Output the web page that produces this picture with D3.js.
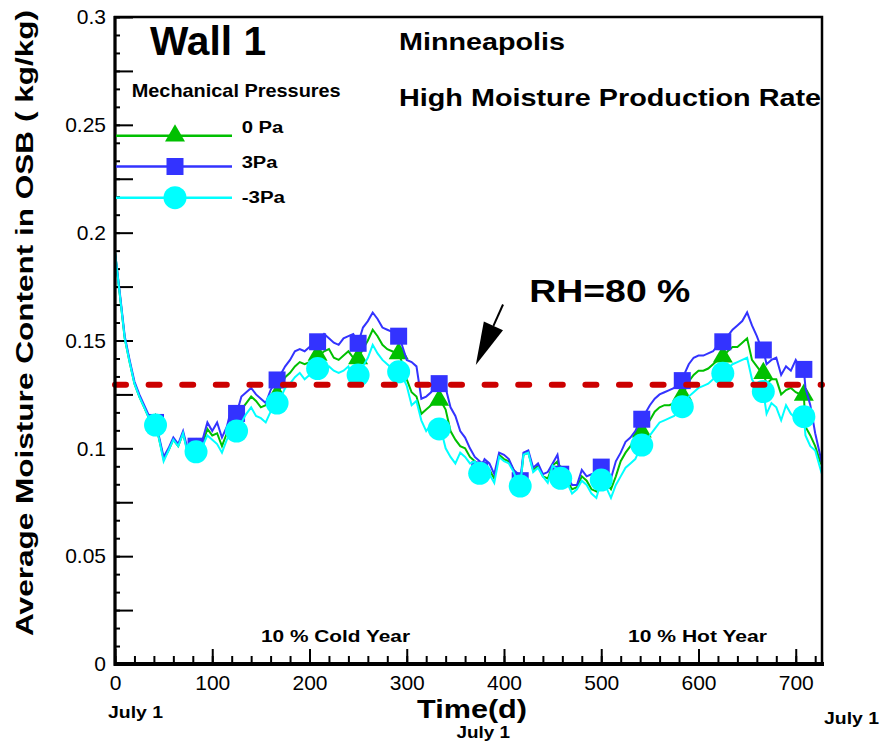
<!DOCTYPE html>
<html>
<head>
<meta charset="utf-8">
<script src="https://cdn.jsdelivr.net/npm/d3@7"></script>
<style>
  body { margin: 0; background: #fff; }
  svg { display: block; }
  text { font-family: "Liberation Sans", Arial, Helvetica, sans-serif; }
</style>
</head>
<body>
<svg id="chart" width="881" height="741"></svg>
<script>
// Sampling days (every 5 days over two years, plus the final day)
const days = d3.range(0, 726, 5).concat([727]);

// Average moisture content of the OSB sheathing (kg/kg)
const moisture0Pa = [
  0.191,0.171,0.151,0.140,0.130,0.124,0.119,0.114,0.111,0.105,
  0.095,0.099,0.104,0.101,0.107,0.098,0.100,0.099,0.102,0.109,
  0.106,0.107,0.101,0.107,0.113,0.112,0.118,0.121,0.124,0.122,
  0.119,0.120,0.123,0.125,0.128,0.133,0.135,0.138,0.140,0.139,
  0.140,0.142,0.143,0.145,0.146,0.142,0.141,0.143,0.145,0.142,
  0.142,0.146,0.150,0.155,0.152,0.148,0.146,0.145,0.144,0.140,
  0.132,0.126,0.124,0.116,0.118,0.120,0.122,0.122,0.118,0.108,
  0.104,0.101,0.100,0.096,0.094,0.091,0.091,0.090,0.086,0.097,
  0.095,0.094,0.090,0.085,0.097,0.098,0.090,0.092,0.087,0.086,
  0.092,0.094,0.088,0.085,0.081,0.082,0.087,0.085,0.081,0.080,
  0.087,0.084,0.081,0.087,0.094,0.098,0.101,0.105,0.107,0.110,
  0.113,0.117,0.119,0.120,0.120,0.121,0.123,0.126,0.131,0.134,
  0.136,0.136,0.137,0.139,0.141,0.142,0.145,0.147,0.147,0.149,
  0.151,0.141,0.138,0.135,0.130,0.132,0.132,0.125,0.127,0.128,
  0.126,0.125,0.110,0.106,0.101,0.094,0.092
];
const moisture3Pa = [
  0.191,0.172,0.152,0.141,0.131,0.125,0.120,0.115,0.112,0.106,
  0.096,0.100,0.105,0.102,0.108,0.099,0.101,0.101,0.104,0.112,
  0.108,0.112,0.105,0.110,0.119,0.116,0.124,0.126,0.128,0.125,
  0.123,0.121,0.127,0.131,0.134,0.138,0.141,0.145,0.146,0.145,
  0.147,0.149,0.150,0.153,0.151,0.149,0.148,0.151,0.152,0.153,
  0.149,0.156,0.159,0.163,0.160,0.156,0.155,0.154,0.152,0.148,
  0.141,0.140,0.138,0.123,0.124,0.126,0.129,0.132,0.128,0.119,
  0.115,0.108,0.105,0.100,0.096,0.094,0.095,0.093,0.088,0.098,
  0.097,0.095,0.090,0.088,0.098,0.099,0.091,0.093,0.088,0.089,
  0.093,0.097,0.089,0.087,0.083,0.083,0.090,0.087,0.088,0.086,
  0.091,0.089,0.086,0.094,0.098,0.103,0.105,0.108,0.113,0.116,
  0.120,0.123,0.125,0.126,0.127,0.128,0.131,0.134,0.139,0.142,
  0.143,0.143,0.144,0.145,0.148,0.149,0.152,0.155,0.157,0.159,
  0.163,0.157,0.152,0.146,0.139,0.141,0.142,0.134,0.138,0.136,
  0.141,0.137,0.128,0.120,0.107,0.097,0.093
];
const moistureNeg3Pa = [
  0.191,0.171,0.151,0.140,0.130,0.124,0.119,0.114,0.111,0.105,
  0.094,0.099,0.104,0.101,0.107,0.097,0.099,0.098,0.101,0.106,
  0.104,0.102,0.098,0.104,0.108,0.108,0.112,0.116,0.119,0.115,
  0.114,0.112,0.117,0.120,0.123,0.128,0.130,0.133,0.135,0.132,
  0.134,0.136,0.137,0.136,0.138,0.136,0.135,0.136,0.138,0.132,
  0.134,0.138,0.142,0.148,0.144,0.141,0.139,0.137,0.136,0.134,
  0.129,0.120,0.122,0.113,0.108,0.111,0.110,0.109,0.100,0.096,
  0.093,0.098,0.096,0.093,0.094,0.089,0.089,0.088,0.084,0.096,
  0.094,0.093,0.089,0.083,0.097,0.098,0.089,0.091,0.087,0.084,
  0.092,0.090,0.086,0.084,0.079,0.081,0.085,0.083,0.079,0.077,
  0.085,0.082,0.077,0.083,0.087,0.091,0.093,0.095,0.100,0.103,
  0.106,0.109,0.112,0.113,0.114,0.115,0.118,0.120,0.124,0.126,
  0.128,0.129,0.130,0.132,0.134,0.135,0.137,0.139,0.140,0.141,
  0.142,0.132,0.128,0.126,0.116,0.121,0.119,0.113,0.120,0.116,
  0.114,0.114,0.106,0.101,0.099,0.091,0.088
];

// Symbols are plotted every 1000 hours
const markerDays = d3.range(1, 18).map(k => k * 1000 / 24);
const marker0Pa = [0.111,0.0995,0.112,0.125,0.1433,0.1417,0.144,0.1224,0.089,0.083,0.087,0.087,0.1077,0.1247,0.1425,0.1348,0.1247];
const marker3Pa = [0.112,0.101,0.1162,0.1317,0.1494,0.1487,0.152,0.130,0.090,0.085,0.088,0.0913,0.1135,0.1314,0.1494,0.1456,0.1366];
const markerNeg3Pa = [0.1108,0.0984,0.108,0.121,0.137,0.134,0.1355,0.109,0.0884,0.0825,0.0861,0.0853,0.1015,0.1193,0.1348,0.1263,0.1147];

// Moisture content corresponding to RH = 80 %
const rhLimit = 0.1295;

// Tick values and labels
const xTicks = [0, 100, 200, 300, 400, 500, 600, 700];
const yTicks = [0, 0.05, 0.1, 0.15, 0.2, 0.25, 0.3];
const yTickLabels = ["0", "0.05", "0.1", "0.15", "0.2", "0.25", "0.3"];

const seriesNames = ["0 Pa", "3Pa", "-3Pa"];
const seriesColors = ["#00c000", "#3333ff", "#00ffff"];

const svg = d3.select("#chart");
svg.append("rect").attr("width", 881).attr("height", 741).attr("fill", "#fff");

const x = d3.scaleLinear().domain([0, 727]).range([115, 822]);
const y = d3.scaleLinear().domain([0, 0.3]).range([664, 17]);

// ---- axes -------------------------------------------------------------
const axisFont = 21;
function styleAxis(g) {
  g.select(".domain").remove();
  g.selectAll(".tick line").attr("stroke", "#000").attr("stroke-width", 2);
  g.selectAll("text").attr("fill", "#000").style("font-size", axisFont + "px");
}

svg.append("g").attr("transform", "translate(0,664)")
  .call(d3.axisBottom(x).tickValues(d3.range(0, 727, 20)).tickSize(-8).tickFormat(""))
  .call(styleAxis);
svg.append("g").attr("transform", "translate(0,664)")
  .call(d3.axisBottom(x).tickValues(xTicks).tickSize(-15).tickPadding(11).tickFormat(d3.format("d")))
  .call(styleAxis);

svg.append("g").attr("transform", "translate(115,0)")
  .call(d3.axisLeft(y).tickValues(d3.range(0, 0.3001, 0.025 / 3)).tickSize(-5).tickFormat(""))
  .call(styleAxis);
svg.append("g").attr("transform", "translate(115,0)")
  .call(d3.axisLeft(y).tickValues(d3.range(0, 0.3001, 0.025)).tickSize(-18).tickPadding(9)
    .tickFormat(v => {
      const i = yTicks.findIndex(t => Math.abs(t - v) < 1e-6);
      return i >= 0 ? yTickLabels[i] : "";
    }))
  .call(styleAxis);

// ---- data lines and symbols --------------------------------------------
const lineGen = d3.line().x(d => x(d[0])).y(d => y(d[1]));
const symbols = [
  d3.symbol(d3.symbolTriangle, 173),
  d3.symbol(d3.symbolSquare, 289),
  d3.symbol(d3.symbolCircle, 415)
];
const lineValues = [moisture0Pa, moisture3Pa, moistureNeg3Pa];
const markerValues = [marker0Pa, marker3Pa, markerNeg3Pa];

lineValues.forEach((vals, s) => {
  const pts = days.map((d, i) => [d, vals[i]])
    .concat(markerDays.map((d, i) => [d, markerValues[s][i]]))
    .sort((a, b) => a[0] - b[0]);
  svg.append("path").datum(pts)
    .attr("d", lineGen)
    .attr("fill", "none")
    .attr("stroke", seriesColors[s])
    .attr("stroke-width", 2)
    .attr("stroke-linejoin", "miter");
  svg.append("g").selectAll("path")
    .data(markerDays.map((d, i) => [d, markerValues[s][i]]))
    .join("path")
    .attr("d", symbols[s])
    .attr("transform", d => `translate(${x(d[0])},${y(d[1])})`)
    .attr("fill", seriesColors[s]);
});

// RH = 80 % threshold
svg.append("line")
  .attr("x1", x(0)).attr("x2", x(727))
  .attr("y1", y(rhLimit)).attr("y2", y(rhLimit))
  .attr("stroke", "#cc0000").attr("stroke-width", 6)
  .attr("stroke-dasharray", "11 22.6").attr("stroke-linecap", "round");

// ---- frame -------------------------------------------------------------
svg.append("rect").attr("x", 115).attr("y", 17).attr("width", 707).attr("height", 647)
  .attr("fill", "none").attr("stroke", "#000").attr("stroke-width", 2.5);
svg.append("line").attr("x1", 115).attr("x2", 115).attr("y1", 16).attr("y2", 666)
  .attr("stroke", "#000").attr("stroke-width", 3);
svg.append("line").attr("x1", 114).attr("x2", 824).attr("y1", 664).attr("y2", 664)
  .attr("stroke", "#000").attr("stroke-width", 4);

// ---- arrow to the threshold ------------------------------------------
const arrowTail = [399, 0.1667];
const arrowTip = [371, 0.1386];
{
  const tx = x(arrowTail[0]), ty = y(arrowTail[1]);
  const hx = x(arrowTip[0]), hy = y(arrowTip[1]);
  const len = Math.hypot(hx - tx, hy - ty);
  const ux = (hx - tx) / len, uy = (hy - ty) / len;
  const headLen = 43, headHalf = 10.5;
  const bx = hx - ux * headLen, by = hy - uy * headLen;
  svg.append("line").attr("x1", tx).attr("y1", ty).attr("x2", bx).attr("y2", by)
    .attr("stroke", "#000").attr("stroke-width", 2);
  svg.append("polygon")
    .attr("points", [[hx, hy], [bx - uy * headHalf, by + ux * headHalf], [bx + uy * headHalf, by - ux * headHalf]].map(p => p.join(",")).join(" "))
    .attr("fill", "#000");
}

// ---- legend ------------------------------------------------------------
const legendY = [135.7, 166.5, 197.7];
const legendText = [
  { x: 241.7, y: 133.3, w: 41.7 },
  { x: 241.7, y: 167.7, w: 35.7 },
  { x: 241.7, y: 203.3, w: 43.3 }
];
seriesNames.forEach((name, s) => {
  svg.append("line").attr("x1", 116).attr("x2", 232)
    .attr("y1", legendY[s]).attr("y2", legendY[s])
    .attr("stroke", seriesColors[s]).attr("stroke-width", 2.5);
  svg.append("path").attr("d", symbols[s])
    .attr("transform", `translate(175,${legendY[s]})`).attr("fill", seriesColors[s]);
  svg.append("text").attr("x", legendText[s].x).attr("y", legendText[s].y)
    .attr("font-size", 16).attr("font-weight", "bold")
    .attr("textLength", legendText[s].w).attr("lengthAdjust", "spacingAndGlyphs")
    .text(name);
});

// ---- labels ------------------------------------------------------------
function label(t, px, py, size, w, anchor) {
  return svg.append("text").attr("x", px).attr("y", py)
    .attr("font-size", size).attr("font-weight", "bold")
    .attr("text-anchor", anchor || "start")
    .attr("textLength", w).attr("lengthAdjust", "spacingAndGlyphs")
    .text(t);
}
label("Wall 1", 150, 55, 40, 116);
label("Mechanical Pressures", 131.7, 97.3, 18.6, 209);
label("Minneapolis", 399, 50, 23.5, 166);
label("High Moisture Production Rate", 399, 106, 24.5, 422);
label("RH=80 %", 529.3, 302, 31, 161);
label("10 % Cold Year", 261, 642.3, 15.8, 149);
label("10 % Hot Year", 628, 642.3, 15.8, 139);
label("Time(d)", 417, 718.3, 25.6, 110);
label("July 1", 108, 718, 16, 55);
label("July 1", 456.6, 738, 16, 53.5);
label("July 1", 824, 724, 16, 55);

svg.append("text")
  .attr("transform", "translate(33,636) rotate(-90)")
  .attr("font-size", 24).attr("font-weight", "bold")
  .attr("textLength", 626).attr("lengthAdjust", "spacingAndGlyphs")
  .text("Average Moisture Content in OSB ( kg/kg)");
</script>
</body>
</html>
